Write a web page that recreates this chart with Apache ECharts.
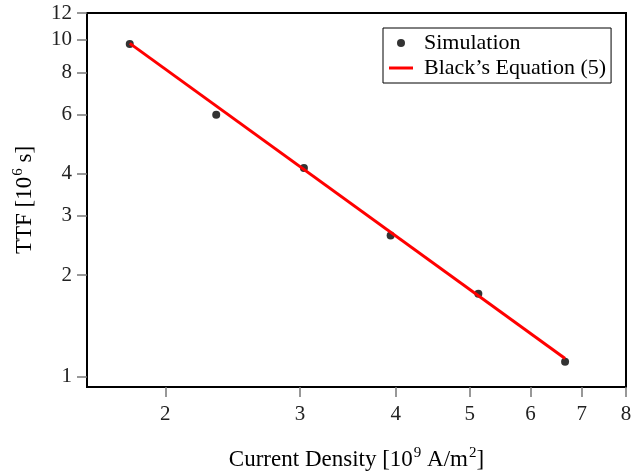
<!DOCTYPE html>
<html>
<head>
    <meta charset="utf-8"/>
    <script src="https://cdn.jsdelivr.net/npm/echarts@6/dist/echarts.min.js"></script>
    <style>
        body { margin: 0; background: #fff; }
        #main { width: 632px; height: 473px; }
    </style>
</head>
<body>
<div id="main"></div>
<script type="text/javascript">
    // 数据
    var densityValues = [1.797, 2.331, 3.035, 3.94, 5.13, 6.66];
    var ttfValues = [9.71, 5.98, 4.16, 2.62, 1.76, 1.105];
    var fitDensity = [1.797, 6.66];
    var fitTTF = [9.75, 1.13];
    var xTicks = [2, 3, 4, 5, 6, 7, 8];
    var yTicks = [1, 2, 3, 4, 6, 8, 10, 12];

    var font = '"Liberation Serif", "Times New Roman", serif';

    var simData = [];
    for (var i = 0; i < densityValues.length; i++) {
        simData.push([densityValues[i], ttfValues[i]]);
    }
    var fitData = [];
    for (var j = 0; j < fitDensity.length; j++) {
        fitData.push([fitDensity[j], fitTTF[j]]);
    }

    var nameRich = {
        a: { fontFamily: font, fontSize: 23, color: '#000' },
        s: { fontFamily: font, fontSize: 15, color: '#000', padding: [0, 0, 12, 1] }
    };

    var myChart = echarts.init(document.getElementById('main'));

    var option = {
        animation: false,
        grid: {
            left: 87, top: 13, right: 6, bottom: 86,
            outerBoundsMode: 'none',
            show: true,
            borderColor: '#000',
            borderWidth: 2
        },
        legend: {
            orient: 'vertical',
            left: 383, top: 28,
            padding: [4, 5, 4, 6],
            borderColor: '#000',
            borderWidth: 1,
            itemWidth: 24,
            itemHeight: 8,
            itemGap: 3,
            symbolKeepAspect: true,
            textStyle: { fontFamily: font, fontSize: 22, color: '#000', padding: [0, 0, 0, 6] },
            data: [
                { name: 'Simulation', icon: 'circle', itemStyle: { color: '#000' } },
                { name: 'Black’s Equation (5)', icon: 'path://M0,0L24,0L24,3L0,3Z', itemStyle: { color: '#ff0000' } }
            ]
        },
        xAxis: {
            type: 'log',
            min: 1.58,
            max: 8,
            name: '{a|Current Density [10}{s|9}{a| A/m}{s|2}{a|]}',
            nameLocation: 'middle',
            nameGap: 59,
            nameTextStyle: { rich: nameRich },
            axisLine: { lineStyle: { color: '#000', width: 2 } },
            axisTick: { length: 10, lineStyle: { color: '#777', width: 1.5 }, customValues: xTicks },
            axisLabel: {
                customValues: xTicks,
                margin: 17,
                fontFamily: font, fontSize: 21, color: '#222',
                formatter: function (v) { return String(Math.round(v)); }
            },
            splitLine: { show: false },
            minorTick: { show: false }
        },
        yAxis: {
            type: 'log',
            min: 0.93,
            max: 12,
            name: '{a|TTF [10}{s|6}{a| s]}',
            nameLocation: 'middle',
            nameRotate: 90,
            nameGap: 49,
            nameTextStyle: { rich: nameRich },
            axisLine: { lineStyle: { color: '#000', width: 2 } },
            axisTick: { length: 10, lineStyle: { color: '#777', width: 1.5 }, customValues: yTicks },
            axisLabel: {
                customValues: yTicks,
                margin: 15,
                fontFamily: font, fontSize: 21, color: '#222',
                formatter: function (v) { return String(Math.round(v)); }
            },
            splitLine: { show: false },
            minorTick: { show: false }
        },
        series: [{
            name: 'Simulation',
            type: 'scatter',
            symbol: 'circle',
            symbolSize: 8,
            itemStyle: { color: '#000' },
            data: simData,
            z: 3
        }, {
            name: 'Black’s Equation (5)',
            type: 'line',
            symbol: 'none',
            lineStyle: { color: '#ff0000', width: 3 },
            itemStyle: { color: '#ff0000' },
            data: fitData,
            z: 4
        }]
    };
    myChart.setOption(option);
</script>
</body>
</html>
